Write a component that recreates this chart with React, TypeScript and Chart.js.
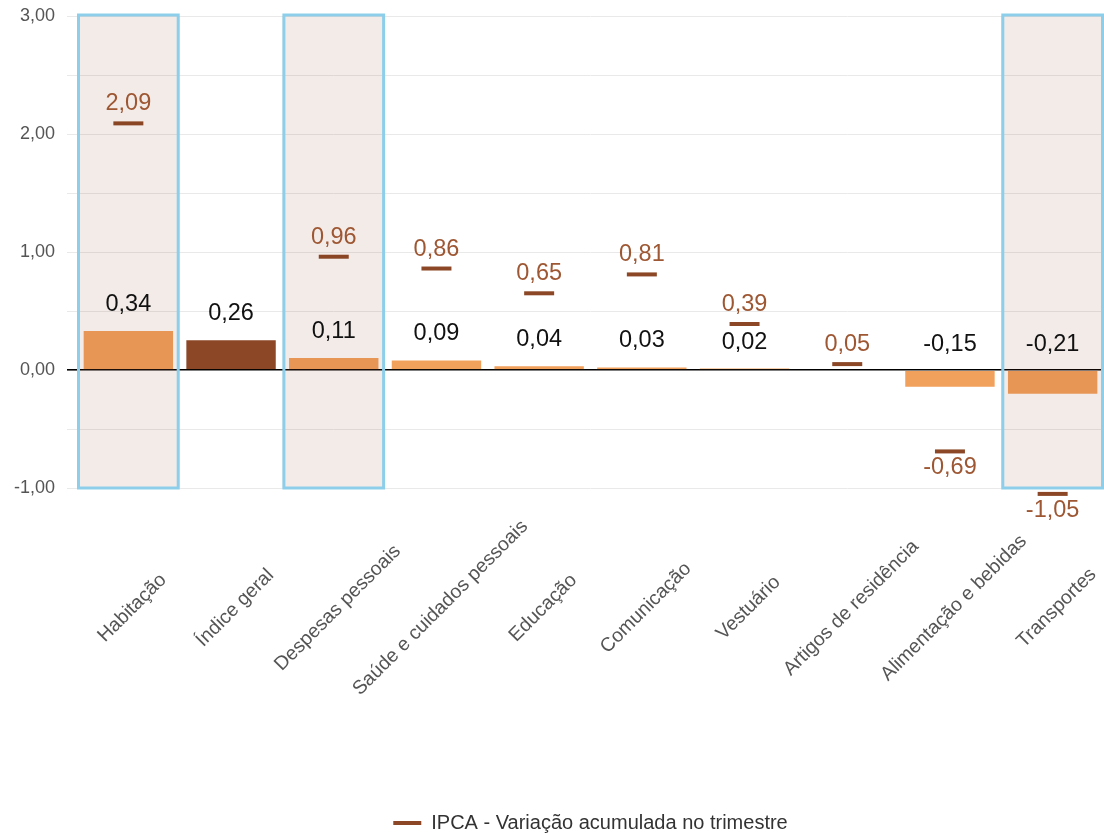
import React, { useEffect, useRef } from 'react';
import { Chart, registerables } from 'chart.js';

Chart.register(...registerables);

const categories = [
  'Habitação',
  'Índice geral',
  'Despesas pessoais',
  'Saúde e cuidados pessoais',
  'Educação',
  'Comunicação',
  'Vestuário',
  'Artigos de residência',
  'Alimentação e bebidas',
  'Transportes',
];
const monthlyValues: (number | null)[] = [0.34, 0.26, 0.11, 0.09, 0.04, 0.03, 0.02, null, -0.15, -0.21];
const quarterValues: (number | null)[] = [2.09, null, 0.96, 0.86, 0.65, 0.81, 0.39, 0.05, -0.69, -1.05];
const highlighted = ['Habitação', 'Despesas pessoais', 'Transportes'];
const quarterLabel = 'IPCA - Variação acumulada no trimestre';
const monthlyLabel = 'IPCA - Variação mensal';

const FONT = '"Liberation Sans", Arial, Helvetica, sans-serif';
const fmt = (v: number) => v.toFixed(2).replace('.', ',');

const W = 1104;
const H = 835;

const overlayPlugin = {
  id: 'overlayPlugin',
  afterLayout(chart: any) {
    const lg = chart.legend;
    if (lg) {
      lg.top += 8;
      lg.bottom += 8;
    }
  },
  afterDatasetsDraw(chart: any) {
    const { ctx, chartArea, scales } = chart;
    const x = scales.x;
    const step = x.width / categories.length;
    ctx.save();
    highlighted.forEach((name) => {
      const i = categories.indexOf(name);
      const cx = x.getPixelForValue(i);
      const l = cx - step / 2;
      const r = cx + step / 2;
      ctx.fillStyle = 'rgba(140,60,30,0.1)';
      ctx.fillRect(l, chartArea.top, r - l, chartArea.bottom - chartArea.top);
      ctx.strokeStyle = '#8DCFEA';
      ctx.lineWidth = 3;
      ctx.strokeRect(l + 1.5, chartArea.top - 1, r - l - 3, chartArea.bottom - chartArea.top + 1);
    });
    ctx.restore();
  },
  afterDraw(chart: any) {
    const { ctx, chartArea, scales } = chart;
    const x = scales.x;
    const y = scales.y;
    ctx.save();
    ctx.textAlign = 'center';
    ctx.textBaseline = 'alphabetic';
    ctx.font = `23.5px ${FONT}`;
    monthlyValues.forEach((v, i) => {
      if (v === null) return;
      const px = x.getPixelForValue(i);
      const py = y.getPixelForValue(Math.max(v, 0));
      ctx.fillStyle = '#111111';
      ctx.fillText(fmt(v), px, py - 19);
    });
    quarterValues.forEach((v, i) => {
      if (v === null) return;
      const px = x.getPixelForValue(i);
      const py = y.getPixelForValue(v);
      ctx.fillStyle = '#9E5733';
      ctx.fillText(fmt(v), px, v >= 0 ? py - 13 : py + 23);
    });
    ctx.font = `19.5px ${FONT}`;
    ctx.fillStyle = '#555555';
    ctx.textBaseline = 'middle';
    categories.forEach((c, i) => {
      const px = x.getPixelForValue(i);
      ctx.save();
      ctx.translate(px + 4, chartArea.bottom + 120);
      ctx.rotate(-Math.PI / 4);
      ctx.fillText(c, 0, 0);
      ctx.restore();
    });
    ctx.restore();
  },
};

export default function App() {
  const ref = useRef<HTMLCanvasElement | null>(null);

  useEffect(() => {
    if (!ref.current) return;
    const chart = new Chart(ref.current, {
      type: 'bar',
      data: {
        labels: categories,
        datasets: [
          {
            type: 'bar',
            label: monthlyLabel,
            data: monthlyValues,
            backgroundColor: categories.map((c) => (c === 'Índice geral' ? '#8B4726' : '#F2A15C')),
            borderColor: 'rgba(255,255,255,0.55)',
            borderWidth: 1,
            categoryPercentage: 1,
            barPercentage: 0.89,
            order: 1,
          } as any,
          {
            type: 'line',
            label: quarterLabel,
            data: quarterValues,
            showLine: false,
            pointStyle: 'line',
            pointRadius: 15,
            pointHoverRadius: 15,
            pointBorderWidth: 4,
            borderWidth: 4,
            borderColor: '#8B4726',
            backgroundColor: '#8B4726',
            clip: false,
            order: 0,
          } as any,
        ],
      },
      options: {
        animation: false,
        responsive: false,
        maintainAspectRatio: false,
        layout: { autoPadding: false, padding: { top: 16, left: 0, right: 0, bottom: 0 } },
        font: { family: FONT } as any,
        plugins: {
          tooltip: { enabled: false },
          legend: {
            position: 'bottom',
            fullSize: false,
            labels: {
              usePointStyle: true,
              pointStyleWidth: 28,
              color: '#333333',
              font: { family: FONT, size: 20 },
              filter: (item: any) => item.datasetIndex === 1,
            },
          },
        },
        scales: {
          x: {
            type: 'category',
            offset: true,
            grid: { display: false },
            border: { display: false },
            ticks: { display: false },
            afterFit: (s: any) => {
              s.height = 307;
            },
          },
          y: {
            min: -1,
            max: 3,
            border: { display: false },
            ticks: {
              stepSize: 0.5,
              padding: 12,
              color: '#555555',
              font: { family: FONT, size: 18 },
              callback: (v: any) => (Number.isInteger(Number(v)) ? fmt(Number(v)) : ''),
            },
            grid: {
              tickLength: 10,
              color: (c: any) => (c.tick && c.tick.value === 0 ? '#000000' : '#E9E9E9'),
              lineWidth: (c: any) => (c.tick && c.tick.value === 0 ? 1.6 : 1),
            },
            afterFit: (s: any) => {
              s.width = 77;
              s.paddingTop = 0;
              s.paddingBottom = 0;
            },
          },
        },
      } as any,
      plugins: [overlayPlugin],
    });
    return () => chart.destroy();
  }, []);

  return (
    <div style={{ position: 'fixed', left: 0, top: 0, width: W, height: H, background: '#ffffff' }}>
      <canvas ref={ref} width={W} height={H} style={{ display: 'block', width: W, height: H }} />
    </div>
  );
}
